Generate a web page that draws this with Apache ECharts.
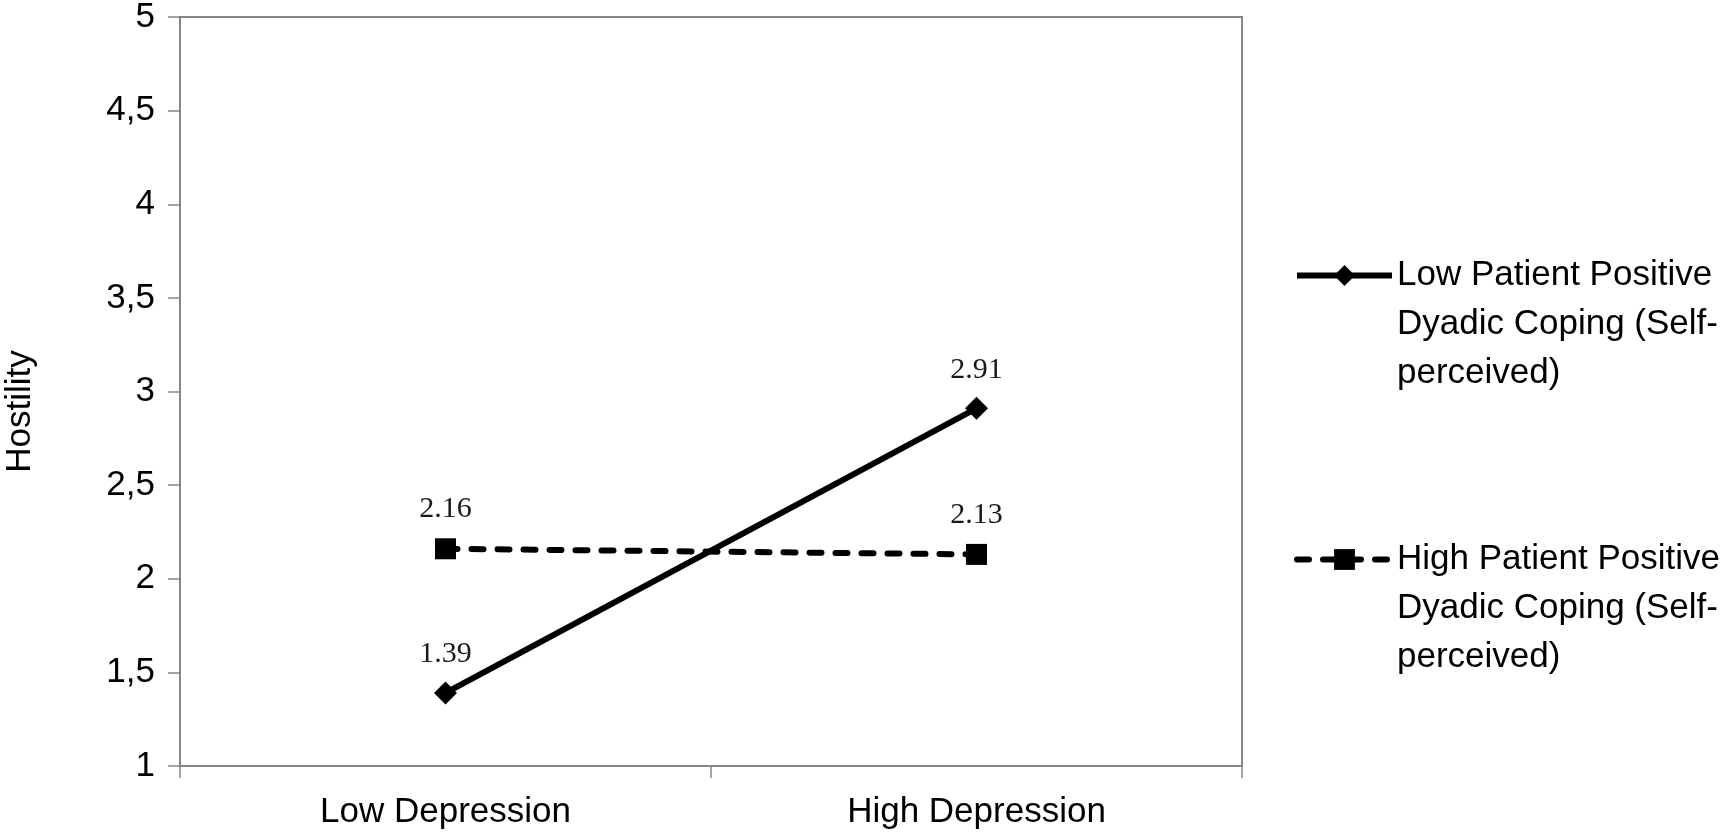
<!DOCTYPE html>
<html>
<head>
<meta charset="utf-8">
<script src="https://cdn.jsdelivr.net/npm/echarts@6/dist/echarts.min.js"></script>
<style>
  html, body { margin: 0; padding: 0; background: #fff; }
  #chart { width: 1720px; height: 832px; }
</style>
</head>
<body>
<div id="chart"></div>
<script>
// 数据
var categories = ['Low Depression', 'High Depression'];
var lowCoping = [1.39, 2.91];
var highCoping = [2.16, 2.13];
var seriesNames = [
  'Low Patient Positive\nDyadic Coping (Self-\nperceived)',
  'High Patient Positive\nDyadic Coping (Self-\nperceived)'
];
var yName = 'Hostility';

var sans = '"Liberation Sans", Arial, sans-serif';
var serif = '"Liberation Serif", "Times New Roman", serif';
var gray = '#868686';

var myChart = echarts.init(document.getElementById('chart'));

var option = {
  animation: false,
  grid: {
    left: 180,
    right: 478,
    top: 17,
    bottom: 66,
    containLabel: false,
    outerBoundsMode: 'none',
    show: true,
    borderColor: gray,
    borderWidth: 2
  },
  legend: {
    orient: 'vertical',
    left: 1289,
    top: 148,
    itemWidth: 95,
    itemHeight: 26,
    itemGap: 39,
    lineStyle: { width: 6 },
    // 前面加两个空行，让图标对齐第一行
    formatter: function (name) {
      return '\n\n' + name;
    },
    textStyle: {
      fontFamily: sans,
      fontSize: 35,
      lineHeight: 49,
      color: '#000'
    },
    data: seriesNames
  },
  xAxis: {
    type: 'category',
    data: categories,
    boundaryGap: true,
    axisLine: { lineStyle: { color: gray, width: 2 } },
    axisTick: { show: true, length: 12, lineStyle: { color: gray, width: 1.5 } },
    axisLabel: {
      margin: 29,
      fontFamily: sans,
      fontSize: 35,
      color: '#000'
    }
  },
  yAxis: {
    type: 'value',
    min: 1,
    max: 5,
    interval: 0.5,
    name: yName,
    nameLocation: 'middle',
    nameGap: 142,
    nameTextStyle: {
      fontFamily: sans,
      fontSize: 35,
      color: '#000',
      padding: [0, 40, 0, 0]
    },
    splitLine: { show: false },
    axisLine: { show: true, lineStyle: { color: gray, width: 2 } },
    axisTick: { show: true, length: 12, lineStyle: { color: gray, width: 1.5 } },
    axisLabel: {
      margin: 25,
      fontFamily: sans,
      fontSize: 35,
      color: '#000',
      formatter: function (v) {
        return String(v).replace('.', ',');
      }
    }
  },
  series: [
    {
      name: seriesNames[0],
      type: 'line',
      data: lowCoping,
      symbol: 'diamond',
      symbolSize: 23,
      lineStyle: { color: '#000', width: 6 },
      itemStyle: { color: '#000' },
      label: {
        show: true,
        position: 'top',
        distance: 12,
        fontFamily: serif,
        fontSize: 30,
        color: '#1a1a1a',
        formatter: function (p) { return p.value.toFixed(2); }
      }
    },
    {
      name: seriesNames[1],
      type: 'line',
      data: highCoping,
      symbol: 'rect',
      symbolSize: 21,
      lineStyle: { color: '#000', width: 6, type: [12, 14], cap: 'round' },
      itemStyle: { color: '#000' },
      label: {
        show: true,
        position: 'top',
        distance: 14,
        fontFamily: serif,
        fontSize: 30,
        color: '#1a1a1a',
        formatter: function (p) { return p.value.toFixed(2); }
      }
    }
  ]
};

myChart.setOption(option);
window.addEventListener('resize', function () {
  myChart.resize();
});
</script>
</body>
</html>
